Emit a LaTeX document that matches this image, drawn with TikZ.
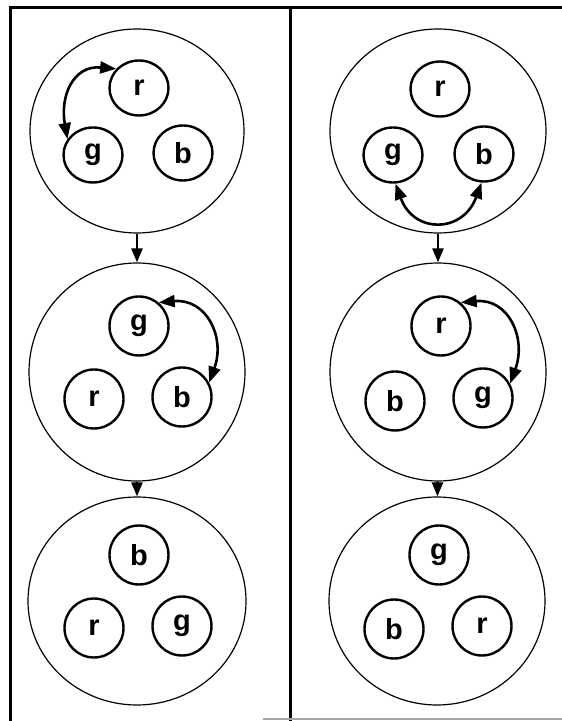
\documentclass[tikz,border=0pt]{standalone}
\usepackage{fontspec}
\setmainfont{Liberation Sans}
\usetikzlibrary{arrows.meta,shapes.geometric}
\begin{document}
\begin{tikzpicture}[x=1pt,y=1pt,
  bigc/.style={draw,ellipse,line width=1.2pt,inner sep=0pt},
  smallc/.style={draw,ellipse,line width=2.4pt,inner sep=0pt,minimum width=59pt,minimum height=59pt,
    font=\fontsize{29}{30}\selectfont\bfseries},
  smalltop/.style={smallc,minimum height=55pt},
  conn/.style={line width=2.4pt,-{Triangle[length=14pt,width=11pt]}},
  swap/.style={line width=2.6pt,{Triangle[length=16pt,width=12pt]}-{Triangle[length=16pt,width=12pt]}},
  frame/.style={line width=3pt,line cap=rect}]
\useasboundingbox (0,0) rectangle (562,721);
% frame
\draw[frame] (562,713) -- (10,713) -- (10,-2);
\draw[frame] (290,713) -- (290,-2);
\draw[line width=2pt,gray!70] (263,2) -- (562,2);
% ---- left column ----
\node[bigc,minimum width=214pt,minimum height=204pt] (L1) at (137,590) {};
\node[bigc,minimum width=216pt,minimum height=218pt] (L2) at (137,349) {};
\node[bigc,minimum width=218pt,minimum height=208pt] (L3) at (137,120) {};
\node[smalltop] (L1r) at (139,633) {r};
\node[smalltop] (L1g) at (93,566) {g};
\node[smalltop] (L1b) at (183,568) {b};
\node[smallc] (L2g) at (139,395) {g};
\node[smallc] (L2r) at (94,322) {r};
\node[smallc] (L2b) at (182,324) {b};
\node[smallc] (L3b) at (139,166) {b};
\node[smallc] (L3r) at (94,93) {r};
\node[smallc] (L3g) at (182,95) {g};
\draw[conn] (L1) -- (L2);
\draw[conn] (L2) -- (L3);
\draw[swap] (L1r.140) to[out=175,in=100,looseness=1.3] (L1g.148);
\draw[swap] (L2g.50) to[out=5,in=70,looseness=1.3] (L2b.28);
% ---- right column ----
\node[bigc,minimum width=216pt,minimum height=204pt] (R1) at (438,590) {};
\node[bigc,minimum width=216pt,minimum height=218pt] (R2) at (438,349) {};
\node[bigc,minimum width=216pt,minimum height=208pt] (R3) at (437,120) {};
\node[smalltop] (R1r) at (440,632) {r};
\node[smalltop] (R1g) at (393,566) {g};
\node[smalltop] (R1b) at (484,567) {b};
\node[smallc] (R2r) at (441,395) {r};
\node[smallc] (R2b) at (395,320) {b};
\node[smallc] (R2g) at (483,323) {g};
\node[smallc] (R3g) at (439,166) {g};
\node[smallc] (R3b) at (394,92) {b};
\node[smallc] (R3r) at (482,95) {r};
\draw[conn] (R1) -- (R2);
\draw[conn] (R2) -- (R3);
\draw[swap] (R1g.-85) to[out=-70,in=-110,looseness=1.6] (R1b.-95);
\draw[swap] (R2r.50) to[out=5,in=70,looseness=1.3] (R2g.28);
\end{tikzpicture}
\end{document}
